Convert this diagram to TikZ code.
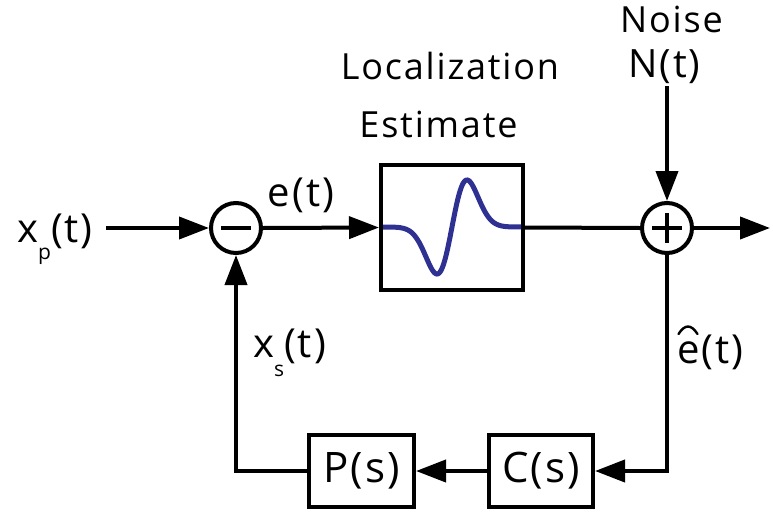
\documentclass[tikz,border=0pt]{standalone}
\usepackage{fontspec}
\setmainfont[LetterSpace=5]{Open Sans}
\usetikzlibrary{arrows.meta}
\definecolor{wavecol}{RGB}{46,49,146}
\newcommand\lsub[2][-17pt]{\raisebox{#1}{\fontsize{21pt}{21pt}\selectfont #2}}
\begin{document}
\begin{tikzpicture}[x=1pt,y=-1pt,
  lbl/.style={font=\fontsize{#1}{#1}\selectfont, inner sep=0pt},
  lbl/.default=36pt,
  blk/.style={draw, line width=4pt, inner sep=0pt},
  sumj/.style={draw, circle, line width=4pt, minimum size=50pt, inner sep=0pt},
  conn/.style={line width=4pt},
  arr/.style={conn, -{Triangle[length=30pt,width=22pt]}},
  sign/.style={line width=4pt},
  hatline/.style={line width=2.4pt, line cap=round}
]
\useasboundingbox (0,0) rectangle (773,514);
% blocks
\node[sumj] (m) at (236,228) {};
\node[sumj] (p) at (667,228) {};
\node[blk, minimum width=142pt, minimum height=125pt] (L) at (452,227.5) {};
\node[blk, lbl=42pt, minimum width=105pt, minimum height=72pt] (P) at (361.5,471) {P(s)};
\node[blk, lbl=42pt, minimum width=104pt, minimum height=72pt] (C) at (541,471) {C(s)};
% signs
\draw[sign] ([xshift=-15pt]m.center) -- ([xshift=15pt]m.center);
\draw[sign] ([xshift=-15pt]p.center) -- ([xshift=15pt]p.center);
\draw[sign] ([yshift=-15pt]p.center) -- ([yshift=15pt]p.center);
% wave
\draw[wavecol, line width=5pt] plot[domain=-4.6:4.6, samples=160]
  ({452+15*(\x)},{227-77.5*(\x)*exp(-0.5*(\x)*(\x))});
% labels
\node[lbl, anchor=base] (loc) at (450,79) {Localization};
\node[lbl, anchor=base] (est) at (438.5,137) {Estimate};
\node[lbl, anchor=base] (noise) at (671.5,32) {Noise};
\node[lbl=39pt, anchor=base] (nt) at (664.5,77) {N(t)};
\node[lbl=40pt, anchor=base] (et) at (301,206) {e(t)};
\node[lbl=40pt, anchor=base] (xp) at (55,242) {x\lsub{p}(t)};
\node[lbl=40pt, anchor=base] (xs) at (289.5,357) {x\lsub[-19pt]{s}(t)};
\node[lbl=40pt, anchor=base west] (eh) at (677,363) {e(t)};
\draw[hatline] ([shift={(1.5,-29)}]eh.base west) .. controls ([shift={(8,-39)}]eh.base west) and ([shift={(14,-39)}]eh.base west) .. ([shift={(20.5,-29)}]eh.base west);
% connectors
\coordinate (in) at (106,228);
\coordinate (out) at (770,228);
\coordinate (nz) at (667,86);
\coordinate (br) at (667,471);
\coordinate (bl) at (236,471);
\draw[arr] (in) -- (m.west);
\draw[arr] (m.east) -- (L.west);
\draw[conn] (L.east) -- (p.west);
\draw[arr] (p.east) -- (out);
\draw[arr] (nz) -- (p.north);
\draw[arr] (p.south) -- (br) -- (C.east);
\draw[arr] (C.west) -- (P.east);
\draw[arr] (P.west) -- (bl) -- (m.south);
\end{tikzpicture}
\end{document}
